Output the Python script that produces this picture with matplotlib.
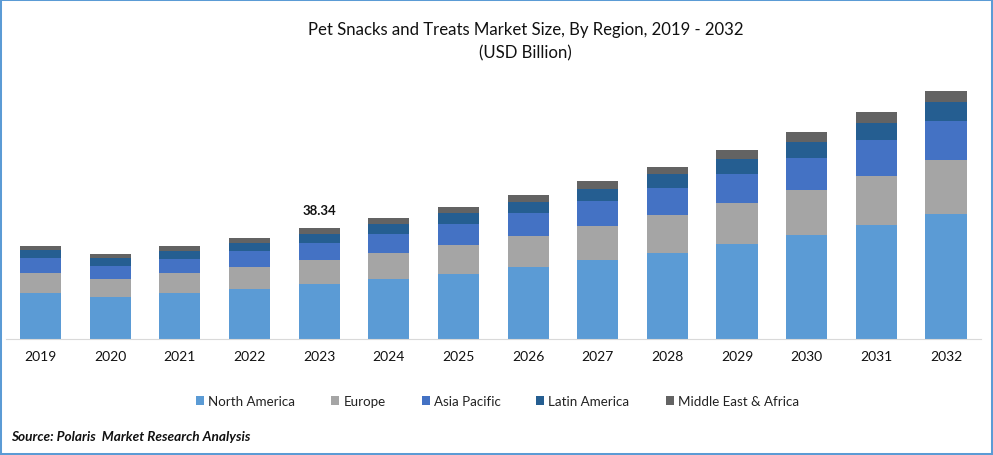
import numpy as np
import matplotlib.pyplot as plt
from matplotlib.patches import Rectangle

plt.rcParams['font.family'] = ['Lato', 'DejaVu Sans']

years = [2019, 2020, 2021, 2022, 2023, 2024, 2025, 2026, 2027, 2028, 2029, 2030, 2031, 2032]
regions = ['North America', 'Europe', 'Asia Pacific', 'Latin America', 'Middle East & Africa']
colors = ['#5B9BD5', '#A5A5A5', '#4472C4', '#255E91', '#636363']

# values, USD billion
north_america = [15.89, 14.51, 15.89, 17.27, 19.0, 20.72, 22.45, 24.87, 27.29, 29.7, 32.81, 35.92, 39.38, 43.18]
europe = [6.91, 6.22, 6.91, 7.6, 8.29, 8.98, 10.02, 10.71, 11.74, 13.13, 14.16, 15.54, 16.92, 18.65]
asia_pacific = [5.18, 4.49, 4.84, 5.53, 5.87, 6.56, 7.25, 7.94, 8.64, 9.33, 10.02, 11.05, 12.43, 13.47]
latin_america = [2.76, 2.76, 2.76, 2.76, 3.11, 3.45, 3.8, 3.8, 4.14, 4.84, 5.18, 5.53, 5.87, 6.56]
mea = [1.38, 1.38, 1.73, 1.73, 2.07, 2.07, 2.07, 2.42, 2.76, 2.42, 3.11, 3.45, 3.8, 3.8]
series = [north_america, europe, asia_pacific, latin_america, mea]

W, H = 993, 456
fig = plt.figure(figsize=(W / 100, H / 100), dpi=100)
ax = fig.add_axes([5.7 / W, (H - 340) / H, 975.1 / W, 270 / H])

x = np.arange(len(years))
bottom = np.zeros(len(years))
for vals, name, c in zip(series, regions, colors):
    ax.bar(x, vals, width=0.59, bottom=bottom, color=c, label=name)
    bottom += np.array(vals)

ax.set_xlim(-0.5, len(years) - 0.5)
ax.set_ylim(0, 270 * 0.3454)
ax.set_yticks([])
ax.set_xticks(x)
ax.set_xticklabels(years, fontsize=10, color='#111111')
ax.tick_params(axis='x', length=0, pad=8)
for s in ['top', 'left', 'right']:
    ax.spines[s].set_visible(False)
ax.spines['bottom'].set_color('#D9D9D9')

ax.text(4, 44.4, '38.34', ha='center', va='center', fontsize=9.5, fontweight='bold', color='#111111')

fig.text(525.5 / W, 1 - 30 / H, 'Pet Snacks and Treats Market Size, By Region, 2019 - 2032',
         ha='center', va='center', fontsize=12.1, color='#111111')
fig.text(525.5 / W, 1 - 53 / H, '(USD Billion)', ha='center', va='center', fontsize=12.1, color='#111111')

ax.legend(loc='center', bbox_to_anchor=(497.5 / W, 1 - 402 / H), bbox_transform=fig.transFigure, ncol=5,
          frameon=False, fontsize=9.6, handlelength=0.6, handleheight=0.6, handletextpad=0.3,
          columnspacing=2.7, labelcolor='#222222')

fig.text(11 / W, 1 - 437 / H, 'Source: Polaris  Market Research Analysis', ha='left', va='center',
         fontsize=9.8, fontweight='bold', fontstyle='italic', color='#111111')

# blue frame round the picture
fig.add_artist(Rectangle((0, 0), 1, 1, transform=fig.transFigure, fill=False, edgecolor='#5B9BD5', linewidth=2.9))

fig.savefig('out.png', dpi=100)
